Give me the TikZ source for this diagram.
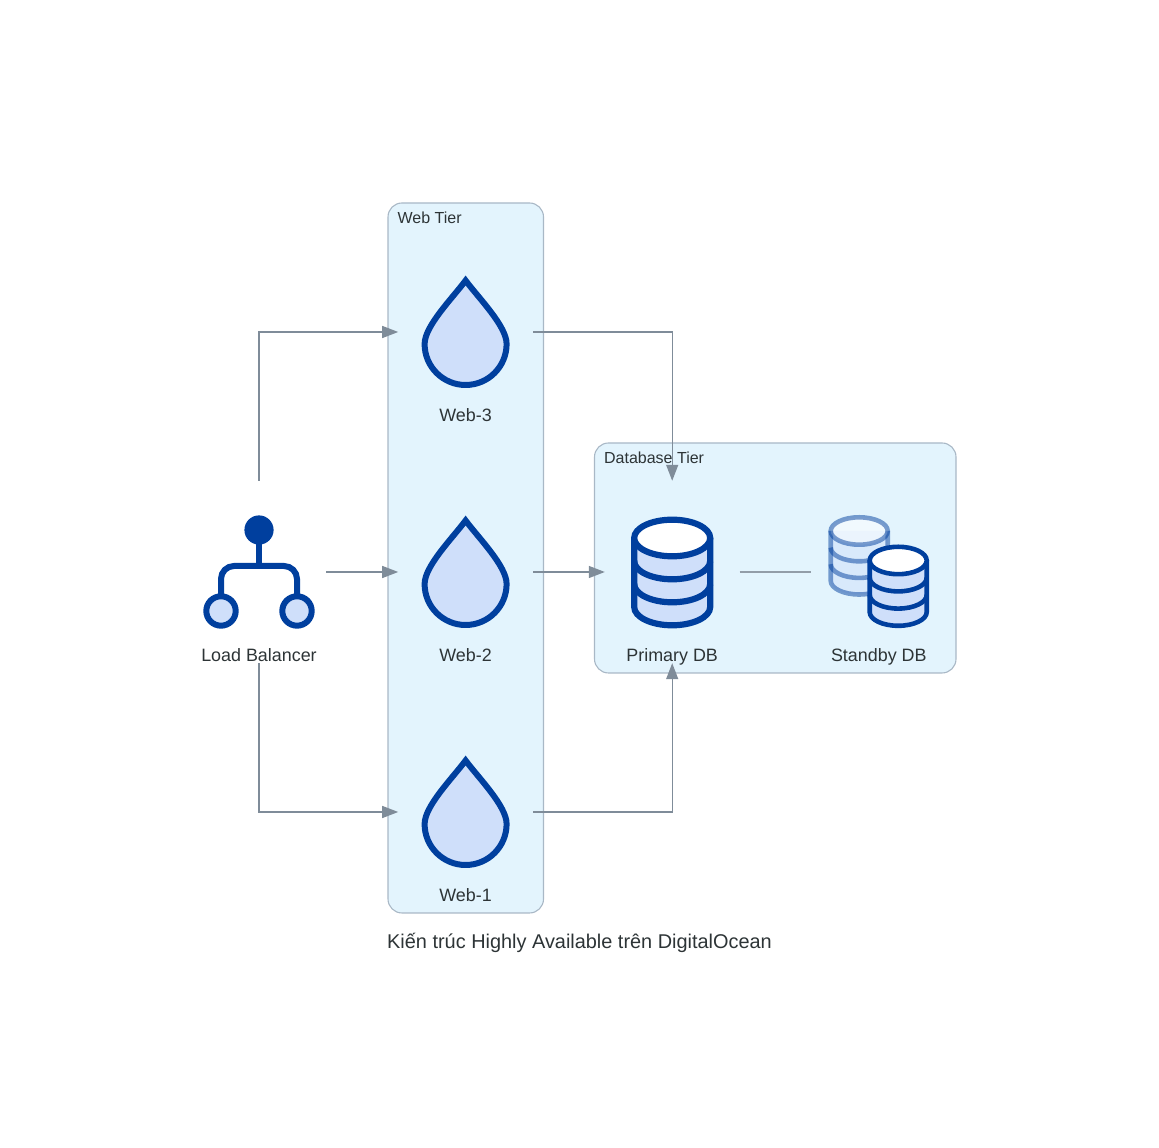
\documentclass[tikz,border=0pt]{standalone}
\usepackage{fontspec}
\setmainfont{Liberation Sans}
\usepackage{xcolor}
\usetikzlibrary{arrows.meta}
\definecolor{iconblue}{HTML}{003F9E}
\definecolor{iconfill}{HTML}{CFDFFA}
\definecolor{tierfill}{HTML}{E3F4FD}
\definecolor{tierline}{HTML}{A9B8C6}
\definecolor{linkgrey}{HTML}{7F8C99}
\definecolor{textgrey}{HTML}{2D3436}
\tikzstyle{iconbox} = [rectangle, inner sep=0pt, minimum width=134.4pt, minimum height=182pt]
\tikzstyle{tier} = [rectangle, draw=tierline, line width=1.1pt, fill=tierfill, rounded corners=14pt, inner sep=0pt]
\tikzstyle{tiertext} = [anchor=west, inner sep=0pt, text=textgrey, font=\fontsize{16}{18}\selectfont, text height=12pt, text depth=3pt]
\tikzstyle{icontext} = [inner sep=0pt, text=textgrey, font=\fontsize{17.9}{20}\selectfont, text height=13pt, text depth=4pt]
\tikzstyle{line} = [draw=linkgrey, line width=1.3pt, -{Triangle[length=16pt,width=12pt]}]
\tikzstyle{plainline} = [draw=linkgrey!85, line width=1.3pt]
\tikzset{
  pics/droplet/.style={code={
    \draw[iconblue, line width=6pt, fill=iconfill, miter limit=10]
      (0,51.5) .. controls (13,34) and (41,6) .. (41,-12)
      arc[start angle=0, end angle=-180, radius=41]
      .. controls (-41,6) and (-13,34) .. cycle;
  }},
  pics/balancer/.style={code={
    \draw[iconblue, line width=6pt, rounded corners=13pt]
      (-38,-39) -- (-38,6) -- (38,6) -- (38,-39);
    \draw[iconblue, line width=6pt] (0,42) -- (0,6);
    \fill[iconblue] (0,42) circle (14.6);
    \draw[iconblue, line width=6pt, fill=iconfill] (-38,-39) circle (14.7);
    \draw[iconblue, line width=6pt, fill=iconfill] (38,-39) circle (14.7);
  }},
  % rx / ry / step between the bands
  pics/dbstack/.style args={#1/#2/#3}{code={
    \path[fill=iconfill] (-#1,0) -- (-#1,-3*#3)
      arc[start angle=180, end angle=360, x radius=#1, y radius=#2] -- (#1,0) -- cycle;
    \draw (-#1,0) -- (-#1,-3*#3)
      arc[start angle=180, end angle=360, x radius=#1, y radius=#2] -- (#1,0);
    \draw (-#1,-#3) arc[start angle=180, end angle=360, x radius=#1, y radius=#2];
    \draw (-#1,-2*#3) arc[start angle=180, end angle=360, x radius=#1, y radius=#2];
    \draw[fill=white] (0,0) ellipse [x radius=#1, y radius=#2];
  }}
}

\begin{document}
\begin{tikzpicture}[x=1pt, y=1pt, node distance=206.6pt]
\useasboundingbox (0,0) rectangle (1159,1148);

\node [tier, minimum width=155.5pt, minimum height=710pt] (webtier) at (465.75,590) {};
\node [tier, minimum width=361.5pt, minimum height=230pt] (dbtier) at (775.25,590) {};
\node [tiertext] (webtiertext) at ([xshift=10pt,yshift=-16.5pt]webtier.north west) {Web Tier};
\node [tiertext] (dbtiertext) at ([xshift=10pt,yshift=-16.5pt]dbtier.north west) {Database Tier};

\node [iconbox] (lb) at (259,576) {};
\node [iconbox, right of=lb] (web2) {};
\node [iconbox, above of=web2, node distance=240pt] (web3) {};
\node [iconbox, below of=web2, node distance=240pt] (web1) {};
\node [iconbox, right of=web2] (primary) {};
\node [iconbox, right of=primary] (standby) {};

\pic at (lb) {balancer};
\pic at (web3) {droplet};
\pic at (web2) {droplet};
\pic at (web1) {droplet};
\begin{scope}[shift={(primary.center)}, yshift=34pt, iconblue, line width=6.2pt]
\pic {dbstack={38/18.3/23}};
\end{scope}
\begin{scope}[shift={(standby.center)}, xshift=-19.6pt, yshift=41pt, iconblue, line width=4.6pt, opacity=0.5]
\pic {dbstack={28.5/13.7/16.6}};
\end{scope}
\begin{scope}[shift={(standby.center)}, xshift=19.4pt, yshift=11.5pt, iconblue, line width=4.6pt]
\pic {dbstack={28.5/13.7/17.2}};
\end{scope}

\node [icontext] (lbtext) at ([yshift=-85pt]lb.center) {Load Balancer};
\node [icontext] (web3text) at ([yshift=-85pt]web3.center) {Web-3};
\node [icontext] (web2text) at ([yshift=-85pt]web2.center) {Web-2};
\node [icontext] (web1text) at ([yshift=-85pt]web1.center) {Web-1};
\node [icontext] (primarytext) at ([yshift=-85pt]primary.center) {Primary DB};
\node [icontext] (standbytext) at ([yshift=-85pt]standby.center) {Standby DB};

\path [line] (lb.north) |- (web3.west);
\path [line] (lb.east) -- (web2.west);
\path [line] (lb.south) |- (web1.west);
\path [line] (web3.east) -| (primary.north);
\path [line] (web2.east) -- (primary.west);
\path [line] (web1.east) -| (primary.south);
\path [plainline] (primary.east) -- (standby.west);

\node [icontext, font=\fontsize{19.9}{22}\selectfont] (title) at (579.5,203.5) {Kiến trúc Highly Available trên DigitalOcean};
\end{tikzpicture}
\end{document}
